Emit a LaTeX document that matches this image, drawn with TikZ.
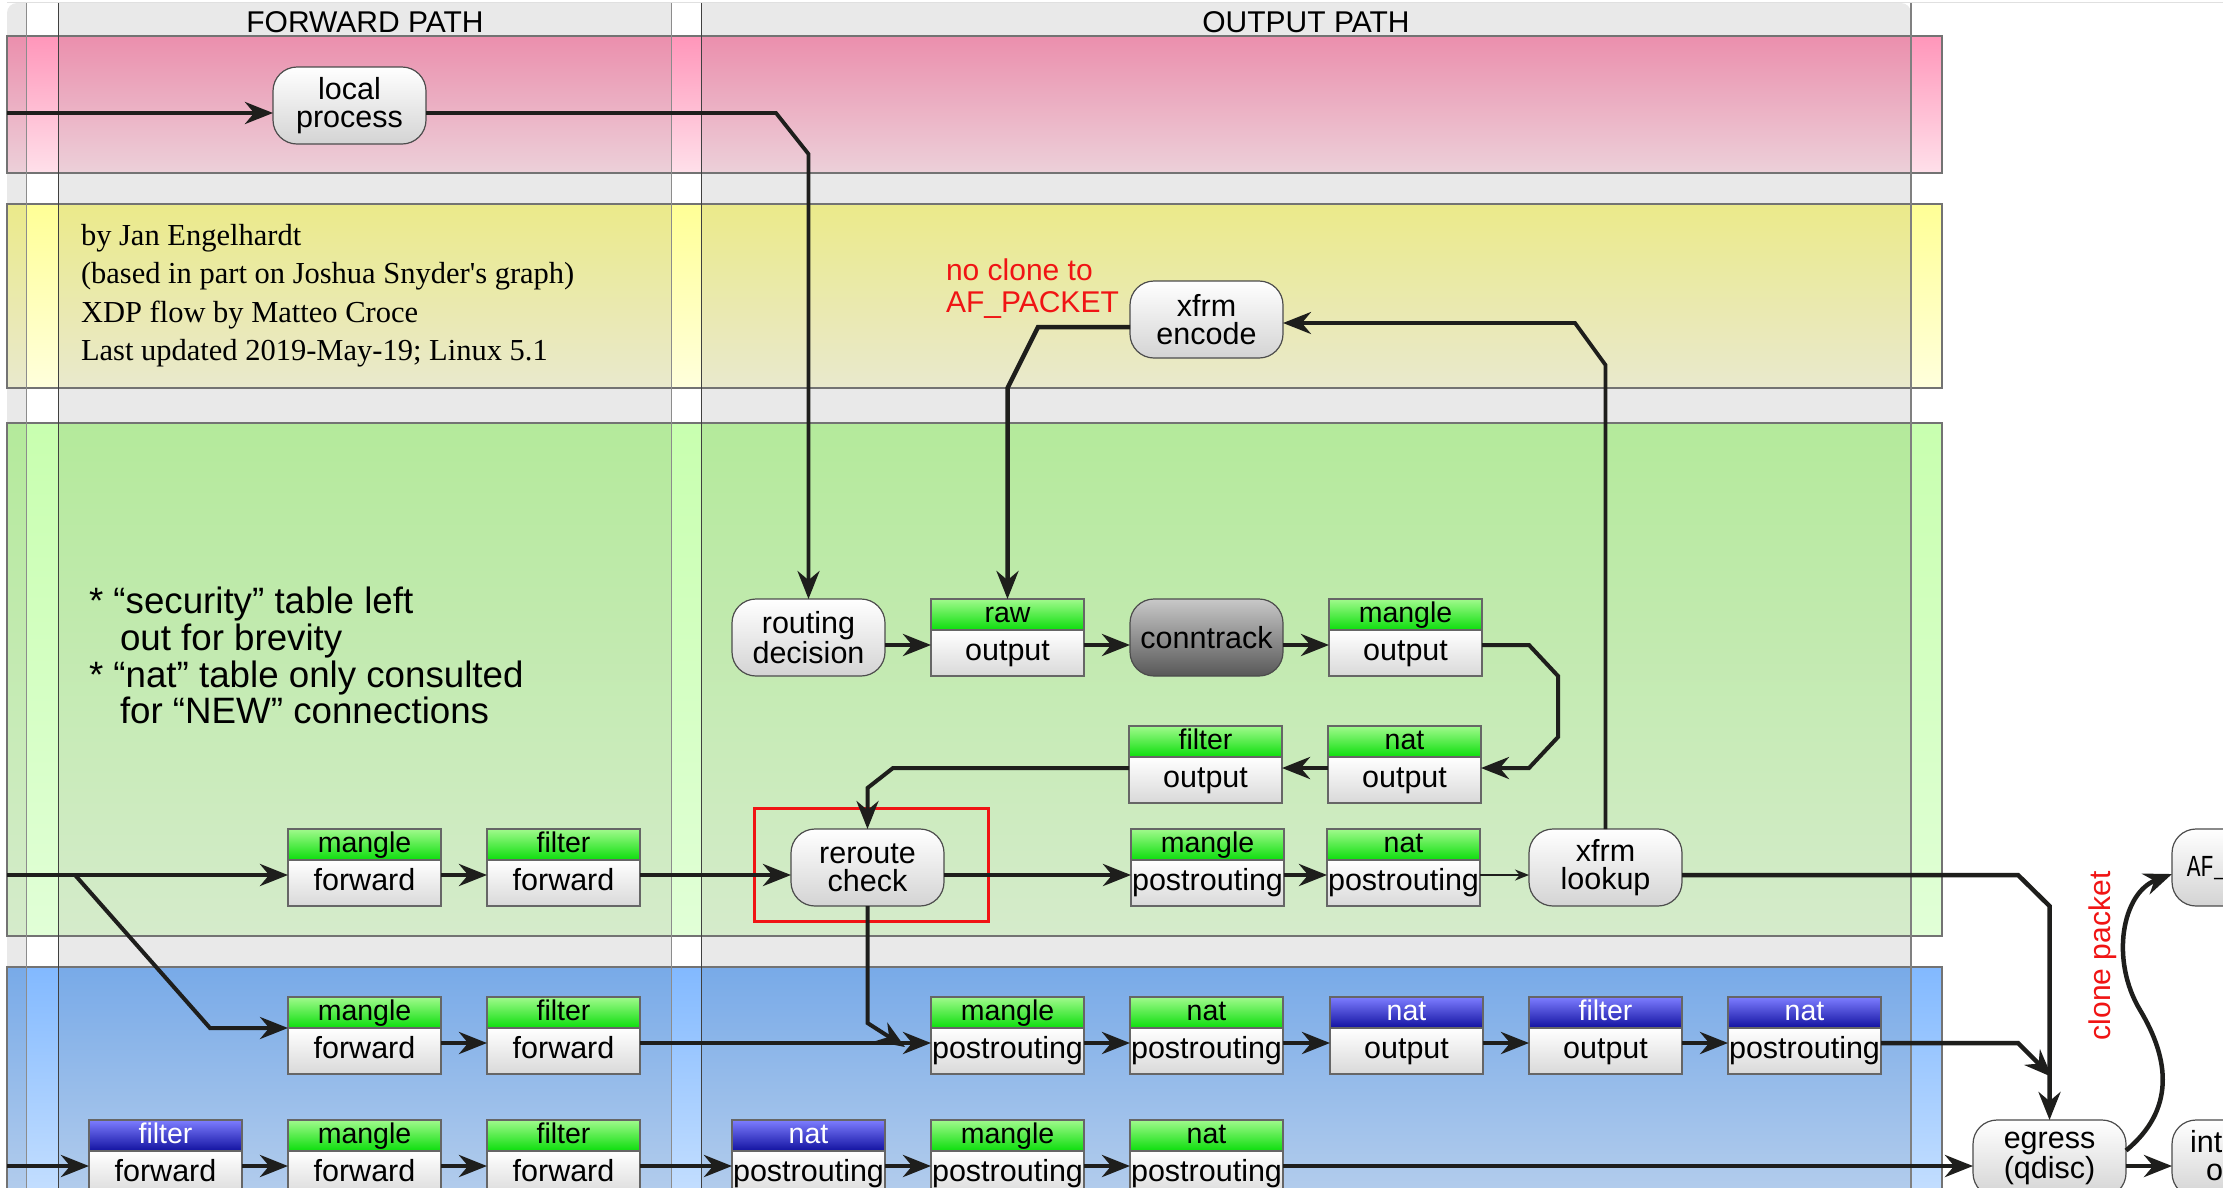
\documentclass[tikz,border=0pt]{standalone}
\usepackage{fontspec}
\setmainfont{Liberation Sans}
\newfontfamily\infofont{Liberation Serif}
\newfontfamily\monofont{Liberation Mono}
\usetikzlibrary{arrows.meta}
\newcommand\myfs[2]{\fontsize{#1pt}{#2pt}\selectfont}
\definecolor{bggray}{RGB}{233,233,233}
\definecolor{lineC}{RGB}{30,30,28}
\definecolor{hgT}{RGB}{160,250,140}
\definecolor{hgB}{RGB}{12,222,12}
\definecolor{hbT}{RGB}{125,125,255}
\definecolor{hbB}{RGB}{18,18,160}
\definecolor{ctT}{RGB}{200,200,200}
\definecolor{ctB}{RGB}{88,88,88}
\definecolor{pkBT}{RGB}{235,143,173}
\definecolor{pkBB}{RGB}{236,208,217}
\definecolor{pkST}{RGB}{255,150,186}
\definecolor{pkSB}{RGB}{255,224,234}
\definecolor{ywBT}{RGB}{235,234,138}
\definecolor{ywBB}{RGB}{233,233,205}
\definecolor{ywST}{RGB}{255,255,150}
\definecolor{ywSB}{RGB}{255,255,220}
\definecolor{gnBT}{RGB}{180,234,155}
\definecolor{gnBB}{RGB}{213,235,203}
\definecolor{gnST}{RGB}{200,255,175}
\definecolor{gnSB}{RGB}{225,255,215}
\definecolor{buBT}{RGB}{120,170,232}
\definecolor{buBB}{RGB}{178,204,236}
\definecolor{buST}{RGB}{130,185,255}
\definecolor{buSB}{RGB}{195,222,255}
\definecolor{redC}{RGB}{240,20,20}
\newcommand\drawband[6]{%
  \shade[top color=#3, bottom color=#4] (7,#1) rectangle (1942,#2);
  \shade[top color=#5, bottom color=#6] (26,#1) rectangle (58,#2);
  \shade[top color=#5, bottom color=#6] (671,#1) rectangle (701,#2);
  \shade[top color=#5, bottom color=#6] (1911,#1) rectangle (1942,#2);
  \draw[black!55, line width=1.3pt] (7,#1) rectangle (1942,#2);
}
\newcommand\tbox[6]{%
  \node[#4] (#1h) at (#2,#3) {#5};
  \node[tbody] (#1) at (#2,#3+31) {#6};
}
\tikzset{
  nb/.style={inner sep=0pt, outer sep=0pt},
  rnode/.style={nb, anchor=north west, draw=black!70, line width=1.2pt, rounded corners=24pt, top color=white, bottom color=black!17, minimum width=153pt, minimum height=77pt, align=center, font=\myfs{30.5}{28}},
  tbody/.style={nb, anchor=north west, draw=black!60, line width=1.2pt, top color=white, bottom color=black!15, minimum width=153pt, minimum height=46pt, font=\myfs{30.5}{30}, text height=21pt, text depth=6pt},
  thG/.style={nb, anchor=north west, draw=black!60, line width=1.2pt, top color=hgT, bottom color=hgB, minimum width=153pt, minimum height=31pt, font=\myfs{28.5}{28}, text height=20pt, text depth=5pt},
  thB/.style={thG, top color=hbT, bottom color=hbB, text=white},
  conn/.style={draw=lineC, line width=4.5pt, -{Stealth[length=28pt,width=22pt]}},
  thinconn/.style={draw=lineC, line width=1.8pt, -{Stealth[length=14pt,width=11pt]}},
  txt/.style={nb, font=\myfs{30}{32}},
  note/.style={nb, anchor=base west, font=\myfs{36.7}{37}},
  info/.style={nb, anchor=base west, font=\infofont\myfs{30.5}{38}},
  redtxt/.style={nb, anchor=base west, text=redC, font=\myfs{30}{32}},
}
\begin{document}
\begin{tikzpicture}[x=1pt,y=-1pt]
\useasboundingbox (0,0) rectangle (2223,1187);
\clip (0,0) rectangle (2223,1187);
% background
\fill[white] (0,0) rectangle (2223,1187);
\draw[black!12, line width=1.2pt] (7,2.5) -- (2223,2.5);
\fill[bggray] {[rounded corners=10pt] (7,1250) -- (7,3) -- (1911,3)} -- (1911,1250) -- cycle;
\fill[white] (26,3) rectangle (58,1250);
\fill[white] (671,3) rectangle (701,1250);
% bands
\drawband{36}{173}{pkBT}{pkBB}{pkST}{pkSB}
\drawband{204}{388}{ywBT}{ywBB}{ywST}{ywSB}
\drawband{423}{936}{gnBT}{gnBB}{gnST}{gnSB}
\drawband{967}{1190}{buBT}{buBB}{buST}{buSB}
% column lines
\draw[black!45, line width=1pt] (26,3) -- (26,1250);
\draw[black!75, line width=1pt] (58,3) -- (58,1250);
\draw[black!45, line width=1pt] (671,3) -- (671,1250);
\draw[black!75, line width=1pt] (701,3) -- (701,1250);
\draw[black!50, line width=1.6pt] (1911,3) -- (1911,1250);
% headers
\node[txt, anchor=base] (hfwd) at (365,32) {FORWARD PATH};
\node[txt, anchor=base] (hout) at (1306,32) {OUTPUT PATH};
% info text
\node[info] (info1) at (81,245) {by Jan Engelhardt};
\node[info] (info2) at (81,283) {(based in part on Joshua Snyder's graph)};
\node[info] (info3) at (81,322) {XDP flow by Matteo Croce};
\node[info] (info4) at (81,360) {Last updated 2019-May-19; Linux 5.1};
% notes
\node[note] (note1) at (89,613) {* “security” table left};
\node[note] (note2) at (120,650) {out for brevity};
\node[note] (note3) at (89,687) {* “nat” table only consulted};
\node[note] (note4) at (120,723) {for “NEW” connections};
% red texts
\node[redtxt] (nc1) at (946,280) {no clone to};
\node[redtxt] (nc2) at (946,312) {AF\_PACKET};
\node[redtxt, rotate=90] (clone) at (2110,1040) {clone packet};
% rounded nodes
\node[rnode] (lp) at (273,67) {local\\process};
\node[rnode] (xenc) at (1130,281) {xfrm\\encode};
\node[rnode] (rd) at (732,599) {routing\\decision};
\node[rnode, top color=ctT, bottom color=ctB] (ct) at (1130,599) {conntrack};
\node[rnode] (rc) at (791,829) {reroute\\check};
\node[rnode] (xlk) at (1529,829) {xfrm\\lookup};
\node[rnode] (af) at (2172,829) {\scalebox{0.75}[1]{\monofont AF\_PACKET}};
\node[rnode] (egress) at (1973,1120) {egress\\(qdisc)};
\node[rnode] (ifout) at (2172,1120) {interface\\output};
% table boxes
\tbox{rawout}{931}{599}{thG}{raw}{output}
\tbox{mangout}{1329}{599}{thG}{mangle}{output}
\tbox{filtout}{1129}{726}{thG}{filter}{output}
\tbox{natout}{1328}{726}{thG}{nat}{output}
\tbox{mfwd}{288}{829}{thG}{mangle}{forward}
\tbox{ffwd}{487}{829}{thG}{filter}{forward}
\tbox{mpost}{1131}{829}{thG}{mangle}{postrouting}
\tbox{npost}{1327}{829}{thG}{nat}{postrouting}
\tbox{bmfwd}{288}{997}{thG}{mangle}{forward}
\tbox{bffwd}{487}{997}{thG}{filter}{forward}
\tbox{bmpost}{931}{997}{thG}{mangle}{postrouting}
\tbox{bnpost}{1130}{997}{thG}{nat}{postrouting}
\tbox{bnout}{1330}{997}{thB}{nat}{output}
\tbox{bfout}{1529}{997}{thB}{filter}{output}
\tbox{bnpostb}{1728}{997}{thB}{nat}{postrouting}
\tbox{cffwd}{89}{1120}{thB}{filter}{forward}
\tbox{cmfwd}{288}{1120}{thG}{mangle}{forward}
\tbox{cffwdb}{487}{1120}{thG}{filter}{forward}
\tbox{cnpost}{732}{1120}{thB}{nat}{postrouting}
\tbox{cmpost}{931}{1120}{thG}{mangle}{postrouting}
\tbox{cnpostb}{1130}{1120}{thG}{nat}{postrouting}
% highlight
\draw[redC, line width=3pt] (754,808) rectangle (988,921);
% row coordinates and free ends
\coordinate (yLP) at (0,113);
\coordinate (yO1) at (0,645);
\coordinate (yO2) at (0,768);
\coordinate (yF) at (0,875);
\coordinate (yB1) at (0,1043);
\coordinate (yB2) at (0,1166);
\coordinate (inLP) at (7,113);
\coordinate (inF) at (7,875);
\coordinate (split) at (75,875);
\coordinate (inB2) at (7,1166);
\coordinate (tipRC) at (905,1047);
\coordinate (tipE) at (2052,1077);
% connectors
\draw[conn] (inLP) -- (lp.west |- yLP);
\draw[conn, line width=3.8pt] (lp.east |- yLP) -- (776,113) -- (rd.north |- 0,154) -- (rd.north);
\draw[conn] (rd.east |- yO1) -- (rawout.west |- yO1);
\draw[conn] (rawout.east |- yO1) -- (ct.west |- yO1);
\draw[conn] (ct.east |- yO1) -- (mangout.west |- yO1);
\draw[conn, line width=4pt] (mangout.east |- yO1) -- (1529,645) -- (1558,676) -- (1558,737) -- (1529,768) -- (natout.east |- yO2);
\draw[conn] (natout.west |- yO2) -- (filtout.east |- yO2);
\draw[conn, line width=4pt] (filtout.west |- yO2) -- (893,768) -- (rc.north |- 0,788) -- (rc.north);
\draw[conn] (xenc.west |- 0,327) -- (1038,327) -- (rawouth.north |- 0,388) -- (rawouth.north);
\draw[conn, line width=3.8pt] (xlk.north) -- (xlk.north |- 0,365) -- (1575,323) -- (xenc.east |- 0,323);
\draw[conn] (inF) -- (mfwd.west |- yF);
\draw[conn, line width=4pt] (split) -- (210,1028) -- (bmfwdh.south west);
\draw[conn] (mfwd.east |- yF) -- (ffwd.west |- yF);
\draw[conn] (ffwd.east |- yF) -- (rc.west |- yF);
\draw[conn] (rc.east |- yF) -- (mpost.west |- yF);
\draw[conn] (mpost.east |- yF) -- (npost.west |- yF);
\draw[thinconn] (npost.east |- yF) -- (xlk.west |- yF);
\draw[conn] (xlk.east |- yF) -- (2018,875) -- (egress.north |- 0,906) -- (egress.north);
\draw[conn] (bmfwd.east |- yB1) -- (bffwd.west |- yB1);
\draw[conn] (bffwd.east |- yB1) -- (bmpost.west |- yB1);
\draw[conn, line width=4pt] (rc.south) -- (rc.south |- 0,1023) -- (tipRC);
\draw[conn] (bmpost.east |- yB1) -- (bnpost.west |- yB1);
\draw[conn] (bnpost.east |- yB1) -- (bnout.west |- yB1);
\draw[conn] (bnout.east |- yB1) -- (bfout.west |- yB1);
\draw[conn] (bfout.east |- yB1) -- (bnpostb.west |- yB1);
\draw[conn] (bnpostb.east |- yB1) -- (2018,1043) -- (tipE);
\draw[conn] (inB2) -- (cffwd.west |- yB2);
\draw[conn] (cffwd.east |- yB2) -- (cmfwd.west |- yB2);
\draw[conn] (cmfwd.east |- yB2) -- (cffwdb.west |- yB2);
\draw[conn] (cffwdb.east |- yB2) -- (cnpost.west |- yB2);
\draw[conn] (cnpost.east |- yB2) -- (cmpost.west |- yB2);
\draw[conn] (cmpost.east |- yB2) -- (cnpostb.west |- yB2);
\draw[conn] (cnpostb.east |- yB2) -- (egress.west |- yB2);
\draw[conn] (egress.east |- yB2) -- (ifout.west |- yB2);
\draw[conn] ([yshift=8pt]egress.east) .. controls (2175,1110) and (2170,1060) .. (2140,1010) .. controls (2110,960) and (2122,893) .. ([yshift=-6.5pt]af.west);
\end{tikzpicture}
\end{document}
